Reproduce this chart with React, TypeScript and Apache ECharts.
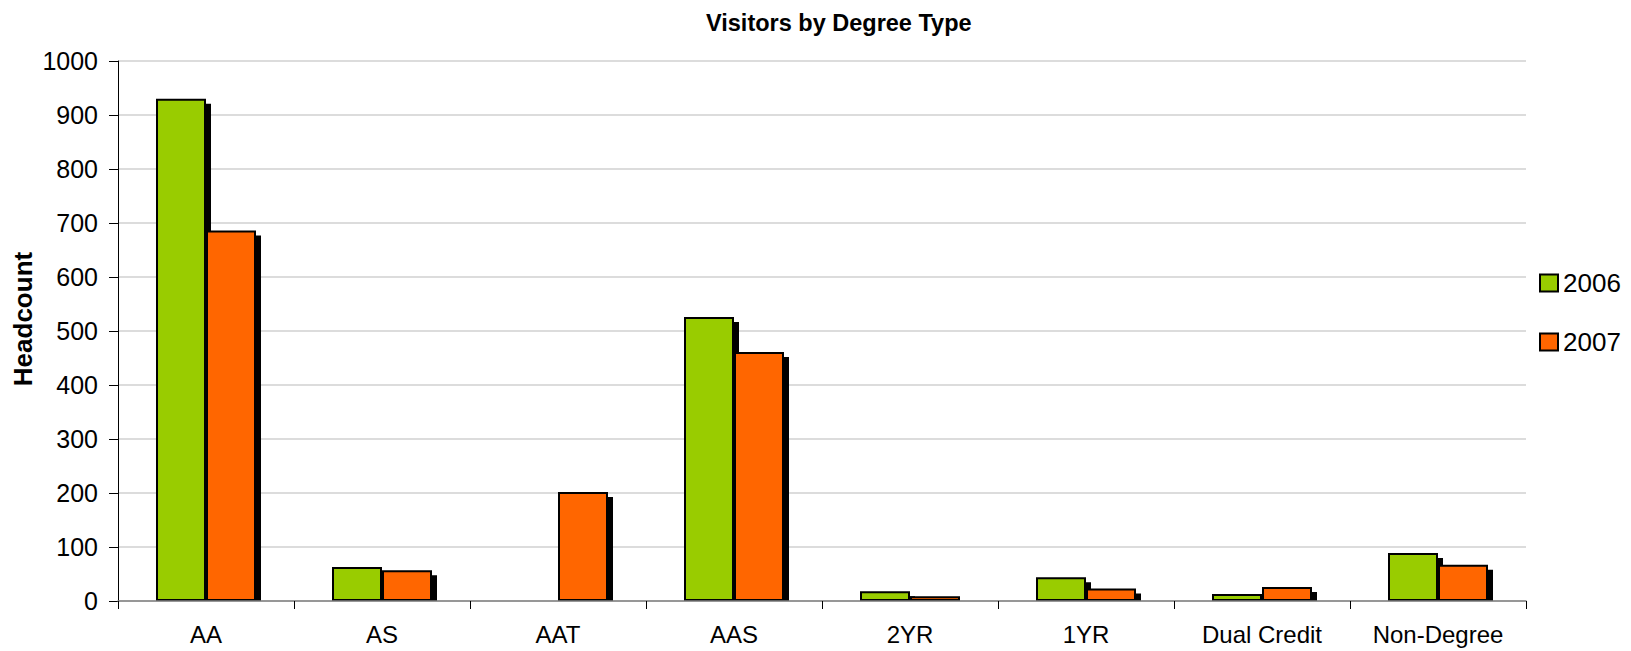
import React, { useEffect, useRef } from "react";
import * as echarts from "echarts";

const categories = ["AA", "AS", "AAT", "AAS", "2YR", "1YR", "Dual Credit", "Non-Degree"];
const seriesNames = ["2006", "2007"];
const values2006 = [930, 63, 0, 526, 18, 44, 13, 89];
const values2007 = [686, 57, 202, 461, 9, 23, 26, 67];
const yTicks = { min: 0, max: 1000, interval: 100 };

const FONT = "'Liberation Sans', Arial, Helvetica, sans-serif";
const BAR_W = 50;
const SHADOW = 5;
const COLORS = ["#99CC00", "#FF6600"];

export default function App() {
  const ref = useRef<HTMLDivElement>(null);
  useEffect(() => {
    document.body.style.margin = "0";
    const chart = echarts.init(ref.current!, null, { renderer: "svg" });
    const allValues = [values2006, values2007];

    const shadowSeries = allValues.map((vals, s) => ({
      type: "custom",
      name: "shadow" + s,
      silent: true,
      clip: false,
      z: 1,
      data: vals.map((v, i) => [i, v]),
      renderItem: (params: any, api: any) => {
        const idx = api.value(0);
        const v = api.value(1);
        if (!v) return null;
        const top = api.coord([idx, v]);
        const base = api.coord([idx, 0]);
        const left = top[0] + (s - 1) * BAR_W + SHADOW;
        const y = top[1] + SHADOW;
        const h = base[1] - y;
        if (h <= 0) return null;
        return {
          type: "rect",
          shape: { x: left, y, width: BAR_W, height: h },
          style: { fill: "#000" },
        };
      },
    }));

    const barSeries = allValues.map((vals, s) => ({
      type: "bar",
      name: seriesNames[s],
      barWidth: BAR_W,
      barGap: "0%",
      z: 3,
      itemStyle: { color: COLORS[s], borderColor: "#000", borderWidth: 2 },
      data: vals.map((v) => (v === 0 ? { value: 0, itemStyle: { borderWidth: 0 } } : v)),
    }));

    chart.setOption({
      animation: false,
      backgroundColor: "#fff",
      title: {
        text: "Visitors by Degree Type",
        left: 701,
        top: 6,
        textStyle: { fontFamily: FONT, fontSize: 23.5, fontWeight: "bold", color: "#000" },
      },
      legend: {
        data: seriesNames,
        orient: "vertical",
        left: 1534,
        top: 265,
        itemWidth: 18,
        itemHeight: 17,
        itemGap: 33,
        icon: "rect",
        textStyle: { fontFamily: FONT, fontSize: 26, color: "#000" },
      },
      grid: { left: 118, right: 105, top: 61, bottom: 50 },
      xAxis: {
        type: "category",
        data: categories,
        axisLine: { lineStyle: { color: "#808080", width: 1.5 } },
        axisTick: { show: true, length: 8, lineStyle: { color: "#000" } },
        axisLabel: { fontFamily: FONT, fontSize: 24, color: "#000", margin: 21 },
        z: 5,
      },
      yAxis: {
        type: "value",
        min: yTicks.min,
        max: yTicks.max,
        interval: yTicks.interval,
        axisLine: { show: true, lineStyle: { color: "#000", width: 1 } },
        axisTick: { show: true, length: 9, lineStyle: { color: "#000" } },
        axisLabel: {
          fontFamily: FONT,
          fontSize: 25,
          color: "#000",
          margin: 20,
          formatter: (v: number) => String(v),
        },
        splitLine: { lineStyle: { color: "#d0d0d0", width: 1.5 } },
      },
      graphic: [
        {
          type: "text",
          x: 23,
          y: 319,
          rotation: Math.PI / 2,
          style: {
            text: "Headcount",
            fontFamily: FONT,
            fontSize: 26,
            fontWeight: "bold",
            fill: "#000",
            textAlign: "center",
            textVerticalAlign: "middle",
          },
        },
      ],
      series: [...shadowSeries, ...barSeries],
    });
    return () => chart.dispose();
  }, []);
  return (
    <div
      ref={ref}
      style={{ position: "fixed", left: 0, top: 0, width: 1631, height: 651 }}
    />
  );
}
